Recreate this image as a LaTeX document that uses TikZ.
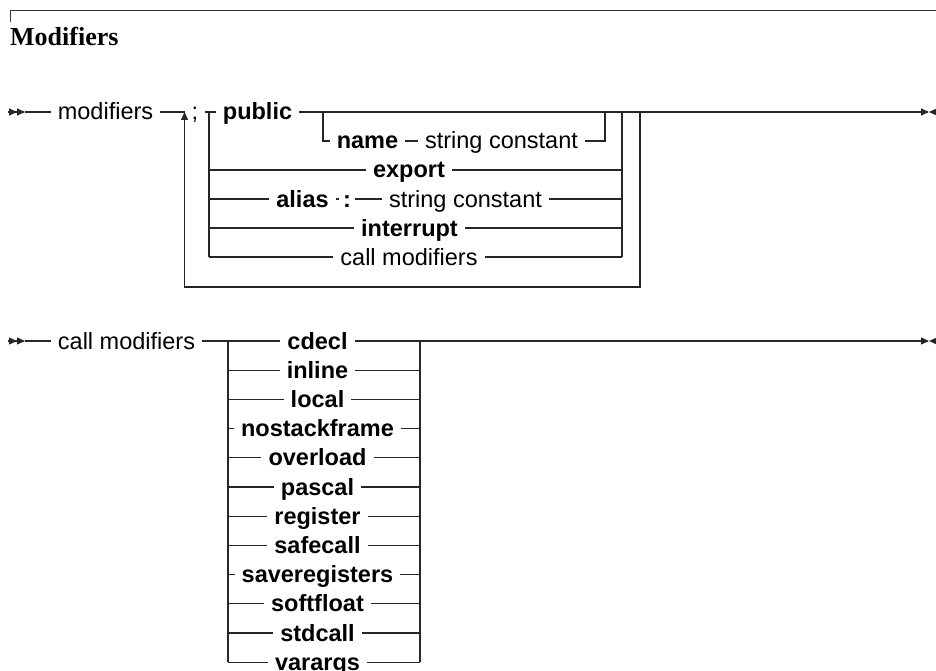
\documentclass[tikz,border=0pt]{standalone}
\usepackage{fontspec}
\setmainfont{Liberation Serif}
\setsansfont{Liberation Sans}
\usetikzlibrary{arrows.meta}
\tikzset{
  rail/.style={line width=1.1pt, color=black!85},
  kw/.style={font={\sffamily\bfseries\fontsize{23.5}{28}\selectfont},
    inner xsep=7pt, inner ysep=0pt, text height=17pt, text depth=1pt},
  nt/.style={kw, font={\sffamily\fontsize{23.5}{28}\selectfont}},
  railstart/.style={rail, -{Triangle[length=8pt,width=7pt]Triangle[length=8pt,width=7pt]}},
  railend/.style={rail, -{Triangle[length=8pt,width=7pt]}},
  railstop/.style={rail, {Triangle[length=8pt,width=7pt]}-},
  railback/.style={rail, -{Triangle[length=8pt,width=7pt]}}
}
\begin{document}
\begin{tikzpicture}[x=1pt, y=-1pt]
  \useasboundingbox (0,0) rectangle (936,671);
  % header
  \draw[line width=1pt, black!80] (10,22) -- (10,11) -- (936,11);
  \node[anchor=base west, inner sep=0pt, font={\rmfamily\bfseries\fontsize{26}{30}\selectfont}] (title) at (10,46) {Modifiers};

  % modifiers
  \coordinate (m0) at (8,112);
  \coordinate (m1) at (25,112);
  \coordinate (mE) at (929,112);
  \coordinate (mX) at (938,112);
  \coordinate (loopR) at (640,112);
  \coordinate (loopB) at (400,287);
  \foreach \i in {0,...,5} {
    \coordinate (cL\i) at (209,{112+29*\i});
    \coordinate (cR\i) at (622,{112+29*\i});
  }
  \node[nt] (mod) at (105.5,112) {modifiers};
  \node[nt] (semi) at (195,112) {;};
  \node[kw] (pub) at (257.5,112) {public};
  \draw[railstart] (m0) -- (m1);
  \draw[rail] (m1) -- (mod.west);
  \draw[rail] (mod.east) -- (semi.west);
  \draw[rail] (semi.east) -- (pub.west);
  \draw[railend] (pub.east) -- (mE);
  \draw[railstop] (mE) -- (mX);
  \draw[railback] (loopR) |- (loopB) -| (semi.west);
  \draw[rail] (cL0) -- (cL5);
  \draw[rail] (cR0) -- (cR5);

  % public name string constant
  \coordinate (nL0) at (323,112);
  \coordinate (nL1) at (323,141);
  \coordinate (nR0) at (605,112);
  \coordinate (nR1) at (605,141);
  \node[kw] (nm) at (367.5,141) {name};
  \node[nt] (sc1) at (501.5,141) {string constant};
  \draw[rail] (nL0) -- (nL1) -- (nm.west);
  \draw[rail] (nm.east) -- (sc1.west);
  \draw[rail] (sc1.east) -- (nR1) -- (nR0);

  \node[kw] (exp) at (409,170) {export};
  \draw[rail] (cL2) -- (exp.west);
  \draw[rail] (exp.east) -- (cR2);

  \node[kw] (alias) at (302.5,199) {alias};
  \node[kw, inner xsep=4pt] (colon) at (347,199) {:};
  \node[nt] (sc2) at (465.5,199) {string constant};
  \draw[rail] (cL3) -- (alias.west);
  \draw[rail] (alias.east) -- (colon.west);
  \draw[rail] (colon.east) -- (sc2.west);
  \draw[rail] (sc2.east) -- (cR3);

  \node[kw] (intr) at (409.5,228) {interrupt};
  \draw[rail] (cL4) -- (intr.west);
  \draw[rail] (intr.east) -- (cR4);

  \node[nt] (cmref) at (409,257) {call modifiers};
  \draw[rail] (cL5) -- (cmref.west);
  \draw[rail] (cmref.east) -- (cR5);

  % call modifiers
  \coordinate (k0) at (8,341);
  \coordinate (k1) at (25,341);
  \coordinate (kE) at (929,341);
  \coordinate (kX) at (938,341);
  \node[nt] (cmod) at (126.5,341) {call modifiers};
  \draw[railstart] (k0) -- (k1);
  \draw[rail] (k1) -- (cmod.west);
  \foreach \kw [count=\i from 0] in {cdecl,inline,local,nostackframe,overload,pascal,register,safecall,saveregisters,softfloat,stdcall,varargs} {
    \coordinate (dL\i) at (228,{341+29.2*\i});
    \coordinate (dR\i) at (420,{341+29.2*\i});
    \node[kw] (d\i) at (317.5,{341+29.2*\i}) {\kw};
    \draw[rail] (dL\i) -- (d\i.west);
    \draw[rail] (d\i.east) -- (dR\i);
  }
  \draw[rail] (cmod.east) -- (dL0);
  \draw[rail] (dL0) -- (dL11);
  \draw[rail] (dR0) -- (dR11);
  \draw[railend] (dR0) -- (kE);
  \draw[railstop] (kE) -- (kX);
\end{tikzpicture}
\end{document}
